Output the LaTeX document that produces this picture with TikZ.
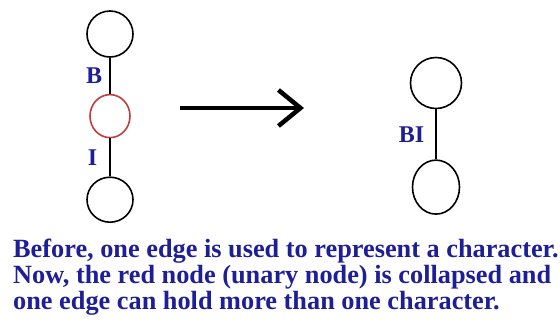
\documentclass[tikz,border=0pt]{standalone}
\usepackage{fontspec}
\setmainfont{Liberation Serif}
\usetikzlibrary{arrows.meta,positioning,shapes.geometric}
\definecolor{TrieBlue}{RGB}{30,30,150}
\definecolor{TrieRed}{RGB}{195,60,60}

\begin{document}
\begin{tikzpicture}[
        x=1pt, y=-1pt,
        trienode/.style={draw, ellipse, line width=1.6pt, inner sep=0pt},
        edgelabel/.style={text=TrieBlue, font=\fontsize{24}{24}\selectfont\bfseries, inner sep=7pt},
        trieedge/.style={line width=1.6pt}
    ]
        \useasboundingbox (0,0) rectangle (560,322);

        % before: chain with a unary node
        \node[trienode, minimum width=46pt, minimum height=46pt] (top) at (110,34) {};
        \node[trienode, draw=TrieRed, minimum width=40pt, minimum height=43pt, below=36pt of top] (unary) {};
        \node[trienode, minimum width=46pt, minimum height=45pt, below=38pt of unary] (bottom) {};

        \draw[trieedge] (top) -- node[edgelabel, left] (lblB) {B} (unary);
        \draw[trieedge] (unary) -- node[edgelabel, left, inner sep=12pt] (lblI) {I} (bottom);

        % transformation arrow
        \coordinate (arrstart) at (180,108);
        \coordinate (arrend) at (304,108);
        \draw[-{Straight Barb[length=22pt,width=36pt]}, line width=4.5pt] (arrstart) -- (arrend);

        % after: collapsed chain
        \node[trienode, minimum width=51pt, minimum height=51pt] (ctop) at (436,83) {};
        \node[trienode, minimum width=47pt, minimum height=54pt, below=50pt of ctop] (cbottom) {};

        \draw[trieedge] (ctop) -- node[edgelabel, left, inner sep=11pt] (lblBI) {BI} (cbottom);

        % caption
        \node[anchor=north west, inner sep=0pt, align=left, text=TrieBlue, font=\fontsize{26.3}{26}\selectfont\bfseries] (caption) at (13,239)
            {Before, one edge is used to represent a character.\\
             Now, the red node (unary node) is collapsed and\\
             one edge can hold more than one character.};
    \end{tikzpicture}
\end{document}
